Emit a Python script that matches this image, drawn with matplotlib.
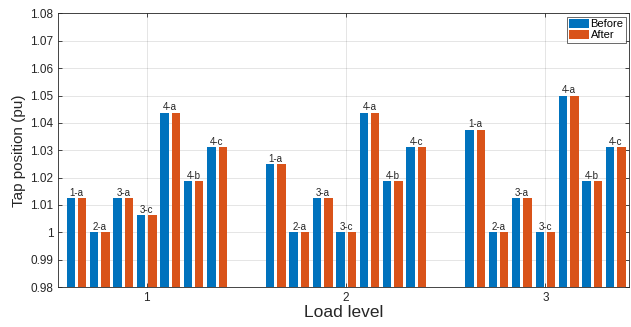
import matplotlib.pyplot as plt
import numpy as np

plt.rcParams['font.family'] = ['Liberation Sans', 'DejaVu Sans']

# Load levels and transformer labels
load_levels = [1, 2, 3]
tap_names = ["1-a", "2-a", "3-a", "3-c", "4-a", "4-b", "4-c"]

# Tap positions (pu) per load level, before and after
before = [
    [1.0125, 1.0, 1.0125, 1.00625, 1.04375, 1.01875, 1.03125],
    [1.025, 1.0, 1.0125, 1.0, 1.04375, 1.01875, 1.03125],
    [1.0375, 1.0, 1.0125, 1.0, 1.05, 1.01875, 1.03125],
]
after = [
    [1.0125, 1.0, 1.0125, 1.00625, 1.04375, 1.01875, 1.03125],
    [1.025, 1.0, 1.0125, 1.0, 1.04375, 1.01875, 1.03125],
    [1.0375, 1.0, 1.0125, 1.0, 1.05, 1.01875, 1.03125],
]

y_ticks = [0.98, 0.99, 1.0, 1.01, 1.02, 1.03, 1.04, 1.05, 1.06, 1.07, 1.08]
y_ticklabels = ["0.98", "0.99", "1", "1.01", "1.02", "1.03", "1.04", "1.05", "1.06", "1.07", "1.08"]

c_before = '#0072BD'
c_after = '#D95319'

fig = plt.figure(figsize=(6.31, 3.27), dpi=100)
ax = fig.add_axes([0.092, 0.122, 0.905, 0.837])

pair_step = 0.1175
offset = 0.0285
bar_w = 0.042

for g, lvl in enumerate(load_levels):
    for k, name in enumerate(tap_names):
        xc = lvl + (k - 3) * pair_step
        b = before[g][k]
        a = after[g][k]
        ax.bar(xc - offset, b - 0.98, bottom=0.98, width=bar_w, color=c_before,
               label="Before" if (g == 0 and k == 0) else None)
        ax.bar(xc + offset, a - 0.98, bottom=0.98, width=bar_w, color=c_after,
               label="After" if (g == 0 and k == 0) else None)
        ax.text(xc, max(a, b) + 0.0001, name, ha='center', va='bottom',
                fontsize=7, color='#262626')

ax.set_xlim(0.555, 3.42)
ax.set_ylim(0.98, 1.08)
ax.set_xticks(load_levels)
ax.set_xticklabels([str(v) for v in load_levels])
ax.set_yticks(y_ticks)
ax.set_yticklabels(y_ticklabels)
ax.tick_params(direction='in', length=3, labelsize=8.5, colors='#262626',
               top=True, right=True, width=0.6)
ax.grid(True, color='#000000', alpha=0.12, linewidth=0.6)
ax.set_axisbelow(True)
for s in ax.spines.values():
    s.set_color('#262626')
    s.set_linewidth(0.6)

ax.set_xlabel("Load level", fontsize=12.5, color='#262626', labelpad=1)
ax.set_ylabel("Tap position (pu)", fontsize=11, color='#262626', labelpad=3)

leg = ax.legend(loc='upper right', fontsize=8, frameon=True, fancybox=False,
                handlelength=1.8, handleheight=0.9, handletextpad=0.1,
                borderpad=0.2, labelspacing=0.05, borderaxespad=0.3)
leg.get_frame().set_edgecolor('#262626')
leg.get_frame().set_linewidth(0.6)

fig.savefig("out.png", dpi=100)
